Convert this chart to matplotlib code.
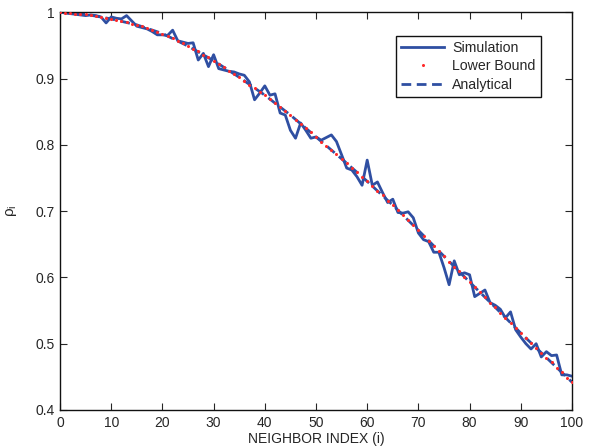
import numpy as np
import matplotlib
matplotlib.use("Agg")
import matplotlib.pyplot as plt

plt.rcParams['font.family'] = ['Liberation Sans', 'DejaVu Sans']

idx = list(range(101))

simulation = [1.000, 0.999, 0.998, 0.997, 0.996, 0.995, 0.996, 0.995, 0.993, 0.984,
              0.993, 0.991, 0.990, 0.995, 0.987, 0.979, 0.977, 0.975, 0.971, 0.966,
              0.966, 0.965, 0.973, 0.957, 0.955, 0.953, 0.954, 0.928, 0.938, 0.918,
              0.936, 0.915, 0.913, 0.911, 0.910, 0.907, 0.905, 0.895, 0.868, 0.878,
              0.889, 0.875, 0.877, 0.848, 0.845, 0.822, 0.810, 0.833, 0.822, 0.810,
              0.812, 0.807, 0.811, 0.815, 0.805, 0.785, 0.765, 0.762, 0.752, 0.739,
              0.777, 0.739, 0.744, 0.728, 0.713, 0.718, 0.698, 0.697, 0.699, 0.690,
              0.667, 0.657, 0.654, 0.638, 0.638, 0.615, 0.589, 0.625, 0.604, 0.607,
              0.604, 0.571, 0.576, 0.581, 0.562, 0.558, 0.552, 0.539, 0.548, 0.521,
              0.510, 0.500, 0.492, 0.500, 0.480, 0.488, 0.482, 0.483, 0.453, 0.453,
              0.451]

lower_bound = [1.000, 0.999, 0.999, 0.998, 0.998, 0.997, 0.996, 0.995, 0.993, 0.992,
               0.990, 0.989, 0.987, 0.985, 0.983, 0.981, 0.979, 0.976, 0.974, 0.971,
               0.968, 0.964, 0.961, 0.957, 0.953, 0.949, 0.945, 0.941, 0.936, 0.932,
               0.927, 0.922, 0.917, 0.912, 0.907, 0.902, 0.897, 0.891, 0.886, 0.880,
               0.875, 0.869, 0.863, 0.857, 0.851, 0.845, 0.838, 0.832, 0.825, 0.819,
               0.812, 0.805, 0.799, 0.792, 0.786, 0.779, 0.772, 0.765, 0.759, 0.752,
               0.745, 0.738, 0.731, 0.724, 0.716, 0.709, 0.701, 0.694, 0.686, 0.679,
               0.671, 0.663, 0.655, 0.648, 0.640, 0.632, 0.624, 0.616, 0.609, 0.601,
               0.593, 0.585, 0.578, 0.570, 0.562, 0.555, 0.547, 0.539, 0.531, 0.524,
               0.516, 0.509, 0.501, 0.494, 0.486, 0.479, 0.472, 0.464, 0.457, 0.449,
               0.442]

ana_idx = [0, 5, 10, 15, 20, 25, 30, 35, 40, 45, 50, 55, 60, 65, 70, 75, 80, 85, 90, 95, 100]
analytical = [1.000, 0.997, 0.990, 0.981, 0.968, 0.949, 0.927, 0.902, 0.875, 0.845, 0.812,
              0.779, 0.745, 0.709, 0.671, 0.632, 0.593, 0.555, 0.516, 0.479, 0.442]

blue = '#2f4fa2'
red = '#ff2a2a'
txt = '#262626'

fig = plt.figure(figsize=(5.96, 4.47), dpi=100)
ax = fig.add_axes([0.1007, 0.0828, 0.859, 0.8897])

ax.plot(idx, simulation, color=blue, lw=2.0, label="Simulation")
ax.plot(idx, lower_bound, color=red, ls='none', marker='.', ms=2.4, zorder=5,
        label="Lower Bound")
ax.plot(ana_idx, analytical, color=blue, lw=2.0, dashes=(3.5, 2.0), label="Analytical")

ax.set_xlim(0, 100)
ax.set_ylim(0.4, 1.0)
ax.set_xticks(np.arange(0, 101, 10))
ax.set_yticks([0.4, 0.5, 0.6, 0.7, 0.8, 0.9, 1.0])
ax.set_yticklabels(['0.4', '0.5', '0.6', '0.7', '0.8', '0.9', '1'])
ax.tick_params(direction='in', top=True, right=True, length=5, width=0.8,
               labelsize=10, colors=txt, pad=4)
for s in ax.spines.values():
    s.set_linewidth(1.0)
    s.set_color('#111111')

ax.set_xlabel("NEIGHBOR INDEX (i)", fontsize=10, color=txt, labelpad=2)
ax.set_ylabel(r"$\mathregular{\rho_i}$", fontsize=11, color=txt, labelpad=12)

handles, labels = ax.get_legend_handles_labels()
order = [0, 1, 2]
leg = ax.legend([handles[i] for i in order], [labels[i] for i in order],
                loc='upper right', bbox_to_anchor=(0.939, 0.94), borderaxespad=0,
                fontsize=10.2, numpoints=1, fancybox=False, framealpha=1,
                edgecolor='#111111', handlelength=3.0, handletextpad=0.6,
                borderpad=0.35, labelspacing=0.3)
leg.get_frame().set_linewidth(1.0)
for t in leg.get_texts():
    t.set_color(txt)

fig.savefig("out.png", dpi=100)
